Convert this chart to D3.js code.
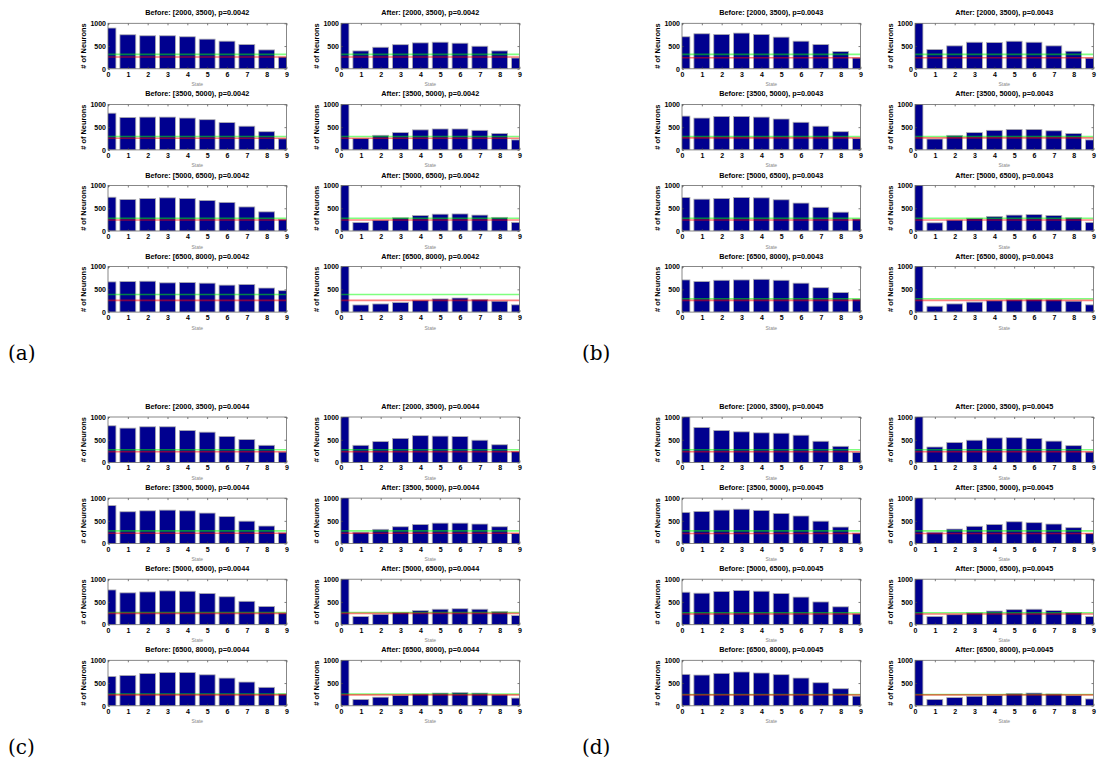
<!DOCTYPE html>
<html>
<head>
<meta charset="utf-8">
<script src="https://cdn.jsdelivr.net/npm/d3@7"></script>
<style>
  body { margin: 0; background: #fff; }
  svg text { font-family: "Liberation Sans", Arial, sans-serif; }
  .tick text { font-size: 7px; font-weight: bold; fill: #000; }
  .tick line { stroke: #444; stroke-width: 0.7; }
  .title { font-size: 7.3px; font-weight: bold; }
  .ylabel { font-size: 7.4px; font-weight: bold; }
  .xlabel { font-size: 5px; fill: #888; }
  .panel { font-family: "DejaVu Serif", serif !important; font-size: 20px; }
</style>
</head>
<body>
<svg id="vis" width="1097" height="763"></svg>
<script>
// states on x axis, y ticks
const states = [0, 1, 2, 3, 4, 5, 6, 7, 8, 9];
const yTicks = [0, 500, 1000];
const ranges = ["[2000, 3500)", "[3500, 5000)", "[5000, 6500)", "[6500, 8000)"];
const panelNames = ["(a)", "(b)", "(c)", "(d)"];
const pValues = ["0.0042", "0.0043", "0.0044", "0.0045"];

// panel (a)
const beforeA = [
  [896, 748, 726, 726, 704, 652, 607, 533, 415, 259],
  [807, 714, 721, 721, 700, 664, 600, 521, 400, 243],
  [743, 693, 714, 729, 714, 671, 629, 529, 421, 257],
  [664, 671, 679, 643, 650, 636, 593, 607, 529, 471]
];
const afterA = [
  [1200, 393, 474, 530, 570, 585, 563, 496, 393, 237],
  [1200, 250, 321, 380, 440, 460, 460, 430, 360, 220],
  [1200, 186, 236, 290, 340, 370, 375, 350, 300, 190],
  [1200, 157, 179, 210, 260, 290, 310, 280, 240, 160]
];
const greenA = [318, 293, 279, 386];
const redA = [259, 257, 243, 257];

// panel (b)
const beforeB = [
  [704, 770, 756, 785, 756, 696, 607, 533, 378, 237],
  [743, 700, 736, 736, 721, 679, 607, 521, 400, 250],
  [736, 700, 714, 736, 729, 686, 614, 521, 414, 264],
  [707, 671, 700, 707, 721, 700, 636, 536, 429, 286]
];
const afterB = [
  [1200, 423, 504, 584, 577, 606, 584, 504, 387, 234],
  [1200, 240, 320, 380, 430, 450, 450, 420, 360, 220],
  [1200, 180, 240, 280, 320, 350, 360, 340, 290, 190],
  [1200, 130, 180, 220, 250, 270, 280, 270, 240, 160]
];
const greenB = [316, 293, 279, 293];
const redB = [243, 264, 243, 257];

// panel (c)
const beforeC = [
  [807, 756, 785, 785, 704, 667, 574, 504, 378, 230],
  [836, 700, 721, 736, 721, 671, 593, 493, 386, 236],
  [764, 700, 721, 743, 736, 686, 614, 514, 400, 257],
  [645, 667, 710, 732, 732, 681, 609, 522, 406, 261]
];
const afterC = [
  [1200, 378, 459, 530, 590, 580, 570, 490, 390, 240],
  [1200, 250, 314, 370, 420, 450, 450, 430, 370, 220],
  [1200, 179, 229, 270, 310, 340, 350, 340, 290, 200],
  [1200, 140, 190, 230, 260, 280, 290, 280, 240, 170]
];
const greenC = [281, 279, 268, 260];
const redC = [237, 229, 250, 240];

// panel (d)
const beforeD = [
  [1200, 770, 704, 674, 652, 644, 600, 467, 356, 222],
  [686, 707, 736, 757, 729, 664, 607, 493, 364, 229],
  [714, 693, 729, 750, 736, 686, 607, 500, 393, 236],
  [691, 676, 713, 743, 721, 684, 610, 507, 375, 213]
];
const afterD = [
  [1200, 341, 440, 490, 540, 545, 530, 470, 370, 230],
  [1200, 250, 320, 380, 420, 480, 460, 430, 350, 220],
  [1200, 180, 220, 260, 300, 330, 340, 310, 270, 180],
  [1200, 140, 180, 210, 230, 270, 280, 260, 230, 150]
];
const greenD = [281, 279, 264, 250];
const redD = [237, 221, 236, 240];

const panels = [
  { before: beforeA, after: afterA, green: greenA, red: redA },
  { before: beforeB, after: afterB, green: greenB, red: redB },
  { before: beforeC, after: afterC, green: greenC, red: redC },
  { before: beforeD, after: afterD, green: greenD, red: redD }
];

const layout = {
  panelX: [0, 574, 0, 574],
  panelY: [0, 0, 393.7, 393.7],
  colX: [108, 341],
  rowY: [23.3, 104.4, 185.5, 266.6],
  w: 178.5,
  h: 45.5
};

const svg = d3.select("svg#vis");

const x = d3.scaleLinear().domain([0, 9]).range([0, layout.w]);
const y = d3.scaleLinear().domain([0, 1000]).range([layout.h, 0]);
const barW = x(0.8) - x(0);

let clipCount = 0;

function drawChart(g, values, green, red, title) {
  const id = "clip" + (clipCount++);
  g.append("clipPath").attr("id", id)
    .append("rect").attr("width", layout.w).attr("height", layout.h);

  const plot = g.append("g").attr("clip-path", `url(#${id})`);

  plot.selectAll("rect.bar")
    .data(values)
    .enter()
    .append("rect")
    .attr("class", "bar")
    .attr("x", (d, i) => x(states[i]) - barW / 2)
    .attr("y", d => y(d))
    .attr("width", barW)
    .attr("height", d => y(0) - y(d))
    .attr("fill", "#00008f")
    .attr("stroke", "#b0b0b0")
    .attr("stroke-width", 0.8);

  // threshold lines (semi-transparent, drawn over the bars)
  plot.append("line")
    .attr("x1", 0).attr("x2", layout.w)
    .attr("y1", y(green)).attr("y2", y(green))
    .attr("stroke", "#00ff00").attr("stroke-opacity", 0.5)
    .attr("stroke-width", 1.6);
  plot.append("line")
    .attr("x1", 0).attr("x2", layout.w)
    .attr("y1", y(red)).attr("y2", y(red))
    .attr("stroke", "#ff0000").attr("stroke-opacity", 0.5)
    .attr("stroke-width", 1.6);

  // axes, ticks pointing inward like matlab
  g.append("g")
    .attr("transform", `translate(0,${layout.h})`)
    .call(d3.axisBottom(x).tickValues(states).tickSizeInner(-2).tickSizeOuter(0).tickPadding(3))
    .call(a => a.select(".domain").remove());
  g.append("g")
    .call(d3.axisTop(x).tickValues(states).tickSizeInner(-2).tickSizeOuter(0).tickFormat(""))
    .call(a => a.select(".domain").remove());
  g.append("g")
    .call(d3.axisLeft(y).tickValues(yTicks).tickFormat(d3.format("d"))
      .tickSizeInner(-2).tickSizeOuter(0).tickPadding(2))
    .call(a => a.select(".domain").remove());
  g.append("g")
    .attr("transform", `translate(${layout.w},0)`)
    .call(d3.axisRight(y).tickValues(yTicks).tickSizeInner(-2).tickSizeOuter(0).tickFormat(""))
    .call(a => a.select(".domain").remove());

  g.append("rect")
    .attr("width", layout.w).attr("height", layout.h)
    .attr("fill", "none")
    .attr("stroke", "#6a6a6a")
    .attr("stroke-width", 0.8);

  g.append("text")
    .attr("class", "title")
    .attr("x", layout.w / 2).attr("y", -8)
    .attr("text-anchor", "middle")
    .text(title);

  g.append("text")
    .attr("class", "ylabel")
    .attr("transform", `translate(-22,${layout.h / 2}) rotate(-90)`)
    .attr("text-anchor", "middle")
    .text("# of Neurons");

  g.append("text")
    .attr("class", "xlabel")
    .attr("x", layout.w / 2).attr("y", layout.h + 17.5)
    .attr("text-anchor", "middle")
    .text("State");
}

panels.forEach(function(p, pi) {
  const pg = svg.append("g")
    .attr("transform", `translate(${layout.panelX[pi]},${layout.panelY[pi]})`);

  ranges.forEach(function(r, ri) {
    const gb = pg.append("g")
      .attr("transform", `translate(${layout.colX[0]},${layout.rowY[ri]})`);
    drawChart(gb, p.before[ri], p.green[ri], p.red[ri], `Before: ${r}, p=${pValues[pi]}`);

    const ga = pg.append("g")
      .attr("transform", `translate(${layout.colX[1]},${layout.rowY[ri]})`);
    drawChart(ga, p.after[ri], p.green[ri], p.red[ri], `After: ${r}, p=${pValues[pi]}`);
  });

  pg.append("text")
    .attr("class", "panel")
    .attr("x", 8).attr("y", 360)
    .text(panelNames[pi]);
});
</script>
</body>
</html>
